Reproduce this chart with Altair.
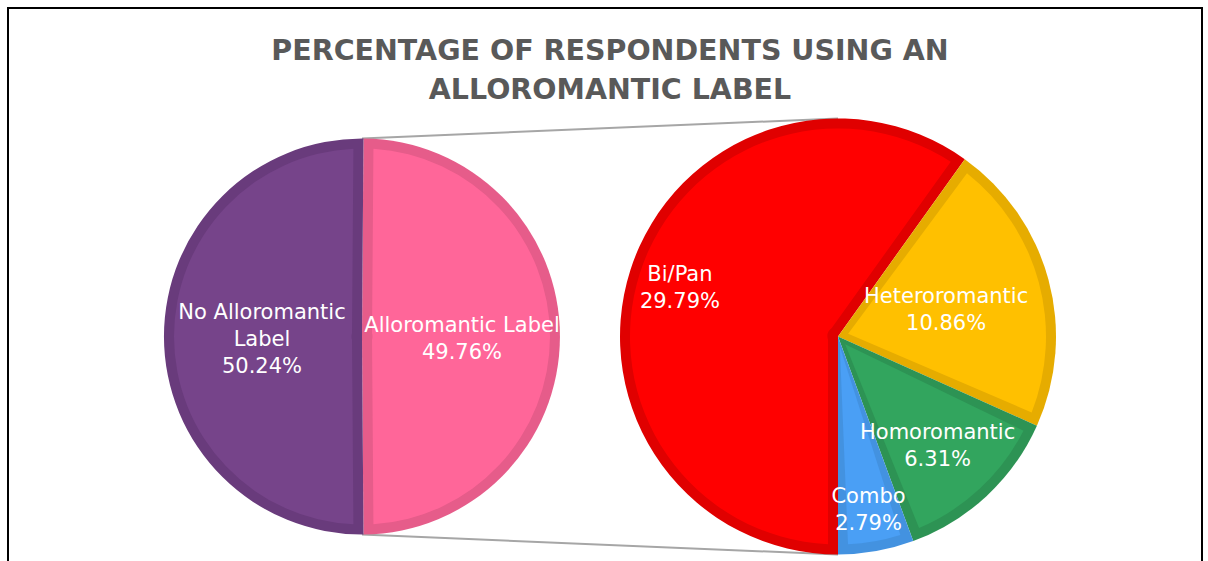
import math
import altair as alt
import pandas as pd

# ---- data ----
outer_labels = ["Alloromantic Label", "No Alloromantic Label"]
outer_values = [49.76, 50.24]
inner_labels = ["Bi/Pan", "Heteroromantic", "Homoromantic", "Combo"]
inner_values = [29.79, 10.86, 6.31, 2.79]

# ---- styling ----
outer_display = ["Alloromantic Label", "No Alloromantic\nLabel"]
inner_display = ["Bi/Pan", "Heteroromantic", "Homoromantic", "Combo"]
outer_fill = ["#FF6699", "#76448A"]
outer_border = ["#E65C8A", "#693B7C"]
inner_fill = ["#FF0000", "#FFC000", "#32A55E", "#4A9FF5"]
inner_border = ["#E00000", "#E6AC00", "#2D9354", "#4392E0"]
outer_label_radius = [100, 100]
inner_label_radius = [166, 112, 146, 174]

TITLE = "PERCENTAGE OF RESPONDENTS USING AN\nALLOROMANTIC LABEL"
W, H = 1208, 561
FONT = "DejaVu Sans"
LINE_H = 27

# layout of the two pies
L_CX, L_CY, L_R = 362, 336.5, 198
R_CX, R_CY, R_R = 838, 336.5, 218
RING = 10
INNER = 10.5


def make_df(labels, values, display, fill, border, lr):
    txt = [f"{d}\n{v:.2f}%" for d, v in zip(display, values)]
    return pd.DataFrame({
        "label": labels,
        "value": values,
        "order": list(range(len(labels))),
        "fill": fill,
        "border": border,
        "lr": lr,
        "txt": txt,
        "nlines": [t.count("\n") + 1 for t in txt],
    })


def pie(df, cx, cy, R, start):
    theta_scale = alt.Scale(domain=[0, 1], range=[start, start + 2 * math.pi])
    base = (
        alt.Chart(df)
        .transform_joinaggregate(total="sum(value)")
        .transform_calculate(frac="datum.value / datum.total")
        .transform_window(cum="sum(frac)", sort=[alt.SortField("order", order="ascending")])
        .transform_calculate(f0="datum.cum - datum.frac", mid="datum.cum - datum.frac / 2")
    )
    r1 = R - RING
    pad = 2 * math.asin(RING / math.sqrt(r1 * r1 + INNER * INNER))
    enc = dict(
        x=alt.value(cx), y=alt.value(cy),
        theta=alt.Theta("f0:Q", stack=None, scale=theta_scale),
        theta2=alt.Theta2("cum:Q"),
        tooltip=["label:N", "value:Q"],
    )
    dark = base.mark_arc(radius=R).encode(fill=alt.Fill("border:N", scale=None), **enc)
    light = base.mark_arc(radius=r1, innerRadius=INNER, padAngle=pad).encode(
        fill=alt.Fill("fill:N", scale=None), **enc
    )
    layers = [dark, light]
    for n in sorted(set(df["nlines"])):
        layers.append(
            base.transform_filter(f"datum.nlines == {n}").mark_text(
                font=FONT, fontSize=21, color="white", lineBreak="\n",
                lineHeight=LINE_H, align="center", baseline="middle",
                dy=-(n - 1) * LINE_H / 2 + 3,
            ).encode(
                x=alt.value(cx), y=alt.value(cy),
                theta=alt.Theta("mid:Q", stack=None, scale=theta_scale),
                radius=alt.Radius("lr:Q", scale=None),
                text="txt:N",
            )
        )
    return layers


outer_df = make_df(outer_labels, outer_values, outer_display, outer_fill, outer_border, outer_label_radius)
inner_df = make_df(inner_labels, inner_values, inner_display, inner_fill, inner_border, inner_label_radius)

# the split slice of the left pie is centred on the right-hand side
split_frac = outer_values[0] / sum(outer_values)
left_start = math.pi / 2 - math.pi * split_frac
right_start = math.pi

dummy = pd.DataFrame({"a": [0]})

frame = alt.Chart(dummy).mark_rect(fill="white", stroke="#000000", strokeWidth=2).encode(
    x=alt.value(8), x2=alt.value(1202), y=alt.value(8), y2=alt.value(620)
)

top_line = alt.Chart(dummy).mark_rule(color="#A6A6A6", strokeWidth=2).encode(
    x=alt.value(L_CX), y=alt.value(L_CY - L_R), x2=alt.value(R_CX), y2=alt.value(R_CY - R_R)
)
bottom_line = alt.Chart(dummy).mark_rule(color="#A6A6A6", strokeWidth=2).encode(
    x=alt.value(L_CX), y=alt.value(L_CY + L_R), x2=alt.value(R_CX), y2=alt.value(R_CY + R_R)
)

title = alt.Chart(pd.DataFrame({"t": [TITLE]})).mark_text(
    font=FONT, fontSize=28.5, fontWeight="bold", color="#595959",
    lineBreak="\n", lineHeight=39, align="center", baseline="alphabetic",
).encode(x=alt.value(610), y=alt.value(60), text="t:N")

layers = (
    [frame, top_line, bottom_line]
    + pie(outer_df, L_CX, L_CY, L_R, left_start)
    + pie(inner_df, R_CX, R_CY, R_R, right_start)
    + [title]
)

chart = (
    alt.layer(*layers)
    .resolve_scale(theta="independent")
    .properties(width=W, height=H, autosize=alt.AutoSizeParams(type="none"), padding=0, background="white")
    .configure_view(stroke=None)
)

chart.save("out.html", embed_options={"renderer": "svg", "actions": False})
